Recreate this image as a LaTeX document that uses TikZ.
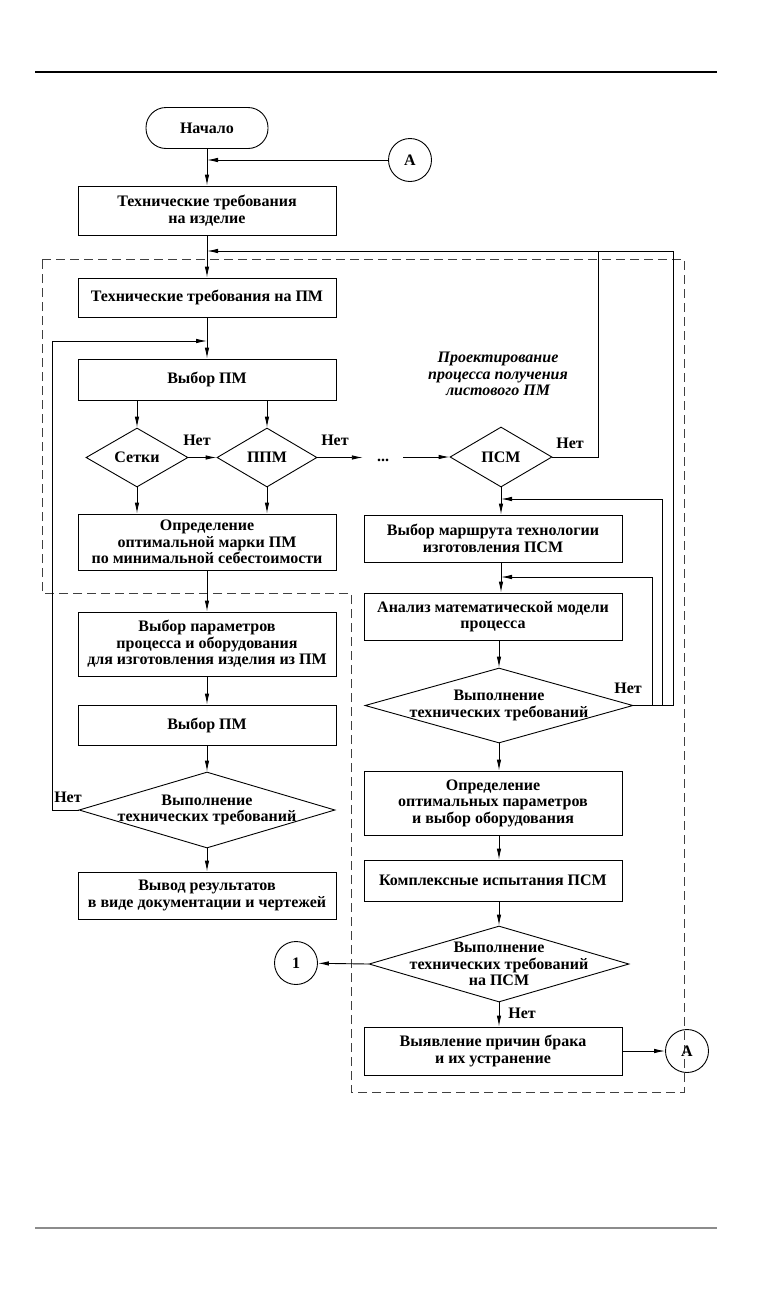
\documentclass[tikz,border=0pt]{standalone}
\usepackage{fontspec}
\setmainfont{Liberation Serif}
\usetikzlibrary{shapes.geometric,arrows.meta}

\begin{document}
\begin{tikzpicture}[x=1pt, y=-1pt,
  every node/.style={font=\fontsize{16}{16.5}\selectfont\bfseries},
  box/.style={draw, line width=0.9pt, align=center, minimum width=258pt, inner sep=2pt},
  term/.style={draw, line width=0.9pt, rounded corners=20pt, minimum width=122pt, minimum height=41pt},
  test/.style={draw, diamond, line width=0.9pt, align=center, aspect=3, inner sep=-12pt},
  conn/.style={draw, circle, line width=0.9pt, minimum size=43pt, inner sep=0pt},
  nolab/.style={inner sep=1pt},
  flow/.style={line width=0.9pt, -{Latex[length=11pt,width=4.5pt]}},
  link/.style={line width=0.9pt},
  frame/.style={line width=0.9pt, black!75, dash pattern=on 9pt off 5pt}]
\useasboundingbox (0,0) rectangle (756,1293);

\draw[line width=1.2pt] (35,72) -- (717,72);
\draw[line width=2pt, black!45] (35,1228) -- (717,1228);

\draw[frame] (42,259) -- (684,259) -- (684,1092) -- (351,1092) -- (351,593) -- (42,593) -- cycle;

\node[term] (start) at (207,128) {Начало};

\node[conn] (A1) at (410,160) {А};

\node[box, minimum height=49pt] (req) at (207,210.5)
{Технические требования\\на изделие};

\node[box, minimum height=39pt] (reqpm) at (207,297.5)
{Технические требования на ПМ};

\node[box, minimum height=41pt] (sel1) at (207,379.5)
{Выбор ПМ};

\node[test, minimum width=102pt, minimum height=59pt] (grid) at (137,457.5) {Сетки};

\node[test, minimum width=100pt, minimum height=59pt] (ppm) at (267,457.5) {ППМ};

\node[minimum width=40pt, inner sep=0pt] (dots) at (383,460) {...};

\node[test, minimum width=102pt, minimum height=60pt] (psm) at (501,457) {ПСМ};

\node[font=\fontsize{16}{16.5}\selectfont\bfseries\itshape, align=center] (title) at (498,374)
{Проектирование\\процесса получения\\листового ПМ};

\node[box, minimum height=56pt] (opt) at (207,542)
{Определение\\оптимальной марки ПМ\\по минимальной себестоимости};

\node[box, minimum height=64pt] (params) at (207,644)
{Выбор параметров\\процесса и оборудования\\для изготовления изделия из ПМ};

\node[box, minimum height=40pt] (sel2) at (207,725)
{Выбор ПМ};

\node[test, minimum width=256pt, minimum height=76pt] (chk1) at (207,810)
{Выполнение\\технических требований};

\node[box, minimum height=47pt] (out) at (207,895.5)
{Вывод результатов\\в виде документации и чертежей};

\node[box, minimum height=47pt] (route) at (493,538.5)
{Выбор маршрута технологии\\изготовления ПСМ};

\node[box, minimum height=47pt] (model) at (493,616.5)
{Анализ математической модели\\процесса};

\node[test, minimum width=268pt, minimum height=75pt] (chk2) at (499,705.5)
{Выполнение\\технических требований};

\node[box, minimum height=64pt] (optpar) at (493,803)
{Определение\\оптимальных параметров\\и выбор оборудования};

\node[box, minimum height=41pt] (tests) at (493,880.5)
{Комплексные испытания ПСМ};

\node[test, minimum width=260pt, minimum height=76pt] (chk3) at (499,964)
{Выполнение\\технических требований\\на ПСМ};

\node[box, minimum height=48pt] (fix) at (493,1051)
{Выявление причин брака\\и их устранение};

\node[conn] (one) at (296,963) {1};

\node[conn] (A2) at (687,1051) {А};

\node[nolab] (no1) at (197,440) {Нет};
\node[nolab] (no2) at (335,440) {Нет};
\node[nolab] (no3) at (570,443) {Нет};
\node[nolab] (no4) at (628,688) {Нет};
\node[nolab] (no5) at (68,797) {Нет};
\node[nolab] (no6) at (522,1013) {Нет};

\coordinate (m0) at (207,160);
\coordinate (m1) at (207,251);
\coordinate (m2) at (207,341);
\coordinate (m3) at (501,499);
\coordinate (m4) at (501,577);
\coordinate (j1) at (598,251);

\draw[flow] (start) -- (req);
\draw[flow] (A1) -- (m0);
\draw[flow] (req) -- (reqpm);
\draw[flow] (reqpm) -- (sel1);
\draw[flow] (grid |- sel1.south) -- (grid.north);
\draw[flow] (ppm |- sel1.south) -- (ppm.north);
\draw[flow] (grid) -- (ppm);
\draw[flow] (ppm.east) -- (ppm.east -| dots.west);
\draw[flow] (dots.east |- psm.west) -- (psm.west);
\draw[flow] (grid.south) -- (grid.south |- opt.north);
\draw[flow] (ppm.south) -- (ppm.south |- opt.north);
\draw[link] (psm.east) -| (j1);
\draw[flow] (psm.south) -- (psm.south |- route.north);
\draw[flow] (route.south -| psm) -- (model.north -| psm);
\draw[flow] (model.south -| chk2) -- (chk2.north);
\draw[flow] (chk2.east) -- ++(19,0) |- (m4);
\draw[flow] (chk2.east) -- ++(29,0) |- (m3);
\draw[flow] (chk2.east) -- ++(40,0) |- (m1);
\draw[flow] (chk2.south) -- (chk2.south |- optpar.north);
\draw[flow] (optpar.south -| chk2) -- (tests.north -| chk2);
\draw[flow] (tests.south -| chk3) -- (chk3.north);
\draw[flow] (chk3.west) -- (one);
\draw[flow] (chk3.south) -- (chk3.south |- fix.north);
\draw[flow] (fix) -- (A2);
\draw[flow] (opt) -- (params);
\draw[flow] (params) -- (sel2);
\draw[flow] (sel2) -- (chk1);
\draw[flow] (chk1) -- (out);
\draw[flow] (chk1.west) -- ++(-26,0) |- (m2);
\end{tikzpicture}
\end{document}
